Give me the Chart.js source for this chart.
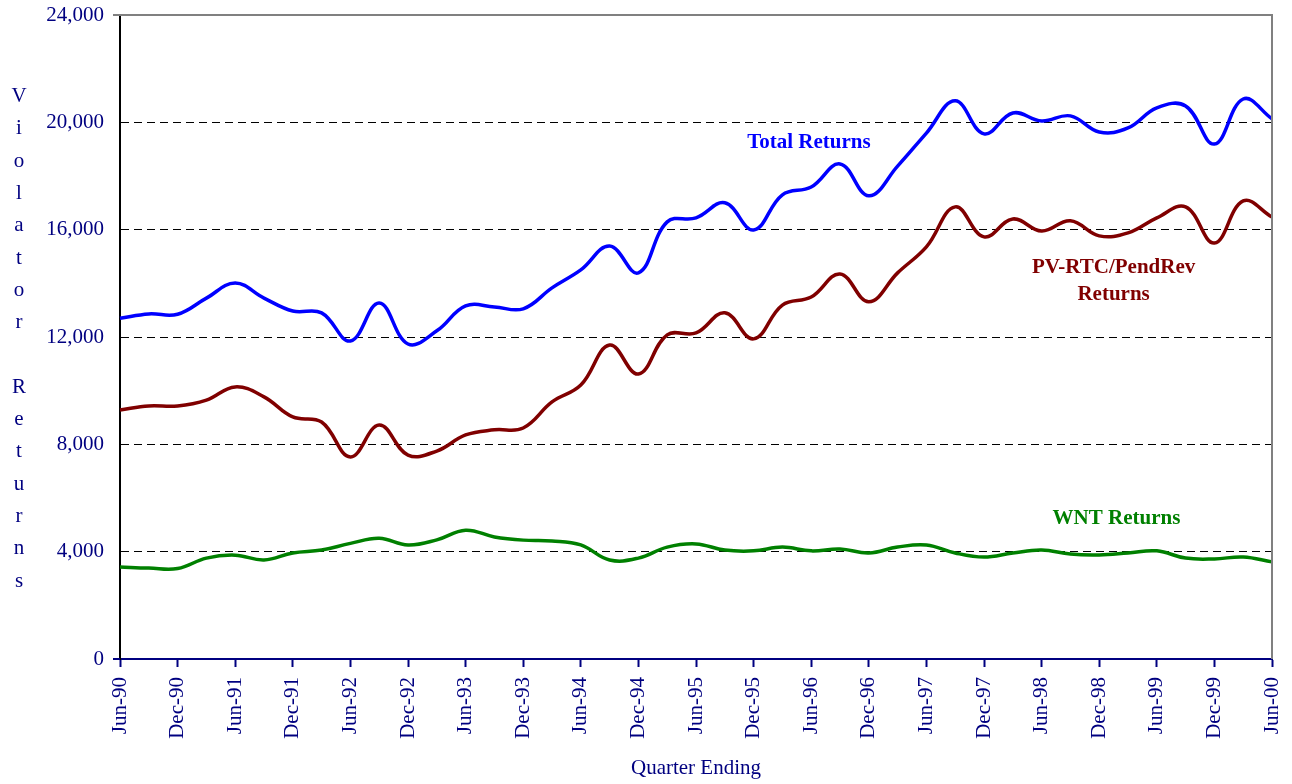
<!DOCTYPE html>
<html>
<head>
<meta charset="utf-8">
<script src="https://cdn.jsdelivr.net/npm/chart.js@4/dist/chart.umd.min.js"></script>
<style>
  html, body { margin: 0; padding: 0; background: #fff; }
  #wrap { width: 1292px; height: 784px; }
</style>
</head>
<body>
<div id="wrap"><canvas id="chart" width="1292" height="784"></canvas></div>
<script>
const quarters = [
  "Jun-90", "Sep-90", "Dec-90", "Mar-91", "Jun-91", "Sep-91", "Dec-91", "Mar-92",
  "Jun-92", "Sep-92", "Dec-92", "Mar-93", "Jun-93", "Sep-93", "Dec-93", "Mar-94",
  "Jun-94", "Sep-94", "Dec-94", "Mar-95", "Jun-95", "Sep-95", "Dec-95", "Mar-96",
  "Jun-96", "Sep-96", "Dec-96", "Mar-97", "Jun-97", "Sep-97", "Dec-97", "Mar-98",
  "Jun-98", "Sep-98", "Dec-98", "Mar-99", "Jun-99", "Sep-99", "Dec-99", "Mar-00",
  "Jun-00"
];

const totalReturns = [
  12700, 12860, 12850, 13450, 14010, 13450, 12970, 12900,
  11850, 13270, 11740, 12230, 13160, 13120, 13050, 13830,
  14500, 15390, 14390, 16290, 16440, 17000, 15990, 17300,
  17590, 18450, 17260, 18370, 19600, 20800, 19570, 20350,
  20050, 20240, 19640, 19790, 20540, 20610, 19190, 20870,
  20130
];

const pvReturns = [
  9280, 9430, 9430, 9650, 10140, 9770, 9020, 8830,
  7530, 8720, 7600, 7750, 8350, 8540, 8610, 9580,
  10210, 11700, 10620, 12080, 12150, 12900, 11930, 13190,
  13490, 14350, 13310, 14390, 15360, 16850, 15730, 16400,
  15950, 16330, 15770, 15880, 16440, 16850, 15500, 17070,
  16470
];

const wntReturns = [
  3430, 3390, 3370, 3760, 3870, 3690, 3950, 4060,
  4310, 4500, 4250, 4440, 4800, 4550, 4430, 4400,
  4250, 3690, 3760, 4170, 4290, 4060, 4030, 4170,
  4030, 4100, 3950, 4170, 4250, 3950, 3800, 3950,
  4060, 3910, 3880, 3950, 4030, 3760, 3730, 3800,
  3620
];

const yTicks = [0, 4000, 8000, 12000, 16000, 20000, 24000];
const yTitle = "Violator Returns";

const NAVY  = "#000080";
const BLUE  = "#0000ff";
const MAROON = "#800000";
const GREEN = "#008000";
const SERIF = "'Liberation Serif', 'Times New Roman', serif";

// series labels placed inside the plot (x = category index, y = value)
const seriesLabels = [
  { lines: ["Total Returns"], x: 23.92, y: 19230, color: BLUE },
  { lines: ["PV-RTC/PendRev", "Returns"], x: 34.5, y: 14600, color: MAROON },
  { lines: ["WNT Returns"], x: 34.6, y: 5250, color: GREEN }
];

// frame, stacked axis title and in-plot labels
const decorPlugin = {
  id: "decor",
  afterDraw(chart) {
    const { ctx, chartArea: a, scales } = chart;
    ctx.save();
    // grey top and right border
    ctx.strokeStyle = "#808080";
    ctx.lineWidth = 2;
    ctx.beginPath();
    ctx.moveTo(a.left - 7, a.top);
    ctx.lineTo(a.right, a.top);
    ctx.lineTo(a.right, a.bottom);
    ctx.stroke();
    // bottom axis stub left of the y axis
    ctx.strokeStyle = NAVY;
    ctx.beginPath();
    ctx.moveTo(a.left - 7, a.bottom);
    ctx.lineTo(a.left, a.bottom);
    ctx.stroke();

    // vertical letter-by-letter y title
    ctx.fillStyle = NAVY;
    ctx.font = "21px " + SERIF;
    ctx.textAlign = "center";
    ctx.textBaseline = "alphabetic";
    const chars = yTitle.split("");
    chars.forEach((ch, k) => {
      if (ch !== " ") ctx.fillText(ch, 19, 102 + 32.3 * k);
    });

    // series labels
    ctx.font = "bold 21px " + SERIF;
    ctx.textBaseline = "middle";
    seriesLabels.forEach(lab => {
      const px = scales.x.getPixelForValue(lab.x);
      const py = scales.y.getPixelForValue(lab.y);
      ctx.fillStyle = lab.color;
      lab.lines.forEach((t, i) => ctx.fillText(t, px, py + i * 27));
    });
    ctx.restore();
  }
};

function lineSet(label, data, color) {
  return {
    label,
    data,
    borderColor: color,
    backgroundColor: color,
    borderWidth: 3.5,
    pointRadius: 0,
    tension: 0.4,
    fill: false
  };
}

new Chart(document.getElementById("chart"), {
  type: "line",
  data: {
    labels: quarters,
    datasets: [
      lineSet("Total Returns", totalReturns, BLUE),
      lineSet("PV-RTC/PendRev Returns", pvReturns, MAROON),
      lineSet("WNT Returns", wntReturns, GREEN)
    ]
  },
  options: {
    responsive: false,
    animation: false,
    layout: { padding: { left: 0, right: 20, top: 15, bottom: 0 } },
    plugins: {
      legend: { display: false },
      tooltip: { enabled: false }
    },
    scales: {
      x: {
        offset: false,
        afterFit(scale) {
          scale.height = 125;
          scale.paddingLeft = 0;
          scale.paddingRight = 0;
        },
        grid: {
          drawOnChartArea: false,
          drawTicks: true,
          tickLength: 8,
          tickWidth: 2,
          tickColor: c => (c.index % 2 === 0 ? NAVY : "rgba(0,0,0,0)")
        },
        border: { display: true, color: NAVY, width: 2 },
        ticks: {
          autoSkip: false,
          maxRotation: 90,
          minRotation: 90,
          padding: 10,
          color: NAVY,
          font: { family: SERIF, size: 21 },
          callback(v, i) { return i % 2 === 0 ? quarters[i] : ""; }
        },
        title: {
          display: true,
          text: "Quarter Ending",
          color: NAVY,
          font: { family: SERIF, size: 21 },
          padding: { top: 0, bottom: 3 }
        }
      },
      y: {
        min: 0,
        max: 24000,
        afterFit(scale) {
          scale.width = 120;
          scale.paddingTop = 0;
          scale.paddingBottom = 0;
        },
        afterBuildTicks(scale) { scale.ticks = yTicks.map(v => ({ value: v })); },
        grid: {
          drawTicks: false,
          lineWidth: 1,
          color: c => (c.tick && (c.tick.value === 0 || c.tick.value === 24000)) ? "rgba(0,0,0,0)" : "#000000"
        },
        border: { display: true, color: "#000000", width: 2, dash: [8, 5] },
        ticks: {
          padding: 16,
          color: NAVY,
          font: { family: SERIF, size: 21 },
          callback(v) { return v.toLocaleString("en-US"); }
        }
      }
    }
  },
  plugins: [decorPlugin]
});
</script>
</body>
</html>
